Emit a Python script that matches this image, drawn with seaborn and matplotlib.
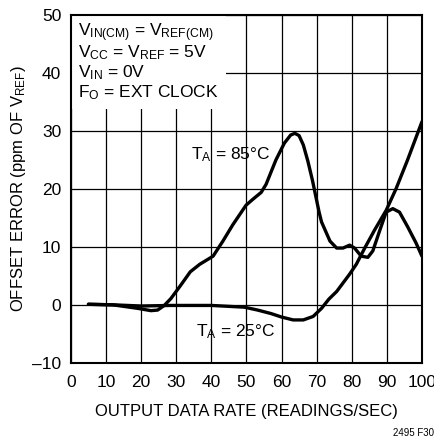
import numpy as np
import pandas as pd
import matplotlib
matplotlib.use("Agg")
import matplotlib.pyplot as plt
import seaborn as sns
from matplotlib.patches import Rectangle

# curves (offset error vs output data rate)
rate_85 = [5, 12, 19, 22.8, 24.7, 26.6, 28.5, 31.3, 34, 36.7, 40.5, 43.3, 46.1, 49.9,
           51.8, 54.2, 55.6, 58.4, 60.8, 62.6, 63.8, 65, 66.2, 67.5, 68.8, 70.7, 71.4,
           73.8, 75.7, 77.5, 79.4, 80.8, 82.7, 84.6, 86, 87.9, 89.8, 91.7, 93.6, 95.9,
           98.3, 100]
err_85 = [0.1, 0, -0.6, -1.0, -0.9, -0.1, 1.1, 3.4, 5.7, 7.0, 8.4, 11.0, 13.8, 17.2,
          18.2, 19.4, 20.8, 25.0, 27.9, 29.3, 29.6, 29.2, 27.6, 24.8, 21.5, 16.0, 14.3,
          11.0, 9.8, 9.8, 10.3, 9.8, 8.4, 8.2, 9.3, 12.7, 16.0, 16.6, 16.0, 13.5,
          10.7, 8.4]

rate_25 = [5, 12.3, 20, 28.5, 40, 49.4, 53.2, 57, 60, 63.3, 66.2, 69, 71.4, 73.5,
           75.7, 79.4, 81.3, 83.7, 86.5, 89.8, 92.6, 95.9, 100]
err_25 = [0.1, 0, -0.2, -0.1, -0.1, -0.4, -0.9, -1.5, -2.1, -2.6, -2.6, -2.0, -0.6, 1.0,
          2.3, 5.3, 7.0, 9.8, 12.9, 16.3, 20.0, 25.0, 31.6]

x_ticks = [0, 10, 20, 30, 40, 50, 60, 70, 80, 90, 100]
y_ticks = [-10, 0, 10, 20, 30, 40, 50]
y_labels = ["\u201310", "0", "10", "20", "30", "40", "50"]

sns.set_style("white")
plt.rcParams["font.family"] = ["Liberation Sans", "DejaVu Sans"]
plt.rcParams["mathtext.default"] = "regular"
for k in ("text.color", "axes.labelcolor", "xtick.color", "ytick.color"):
    plt.rcParams[k] = "black"

fig = plt.figure(figsize=(4.35, 4.43), dpi=100)
ax = fig.add_axes([0.163, 0.181, 0.807, 0.785])

d85 = pd.DataFrame({"rate": rate_85, "err": err_85})
d25 = pd.DataFrame({"rate": rate_25, "err": err_25})
for d in (d85, d25):
    sns.lineplot(data=d, x="rate", y="err", color="black", lw=2.4, sort=False,
                 estimator=None, ax=ax, zorder=3)

ax.set_xlim(0, 100)
ax.set_ylim(-10, 50)
ax.set_xticks(x_ticks)
ax.set_yticks(y_ticks)
ax.set_yticklabels(y_labels)
ax.tick_params(axis="x", length=0, labelsize=12.5, pad=9)
ax.tick_params(axis="y", length=0, labelsize=12.5, pad=7)
ax.grid(True, color="black", lw=0.9)
ax.set_axisbelow(True)
for s in ax.spines.values():
    s.set_color("black")
    s.set_linewidth(1.5)

ax.set_xlabel("OUTPUT DATA RATE (READINGS/SEC)", fontsize=12, labelpad=10)
ax.set_ylabel("OFFSET ERROR (ppm OF V$_{REF}$)", fontsize=12, labelpad=3)

# white panel behind the conditions text
ax.add_patch(Rectangle((0, 33.8), 44.2, 16.2, facecolor="white", edgecolor="none", zorder=2))
cond = ["V$_{IN(CM)}$ = V$_{REF(CM)}$", "V$_{CC}$ = V$_{REF}$ = 5V",
        "V$_{IN}$ = 0V", "F$_{O}$ = EXT CLOCK"]
for i, t in enumerate(cond):
    ax.text(2.0, 47.0 - i * 3.45, t, fontsize=12.5, va="center", ha="left", zorder=4)

ax.text(45.5, 26.0, "T$_{A}$ = 85\u00b0C", fontsize=12.5, ha="center", va="center", zorder=4)
ax.text(47.0, -4.6, "T$_{A}$ = 25\u00b0C", fontsize=12.5, ha="center", va="center", zorder=4)

fig.text(0.997, 0.012, "2495 F30", fontsize=7, ha="right", va="bottom")

fig.savefig("out.png", dpi=100)
